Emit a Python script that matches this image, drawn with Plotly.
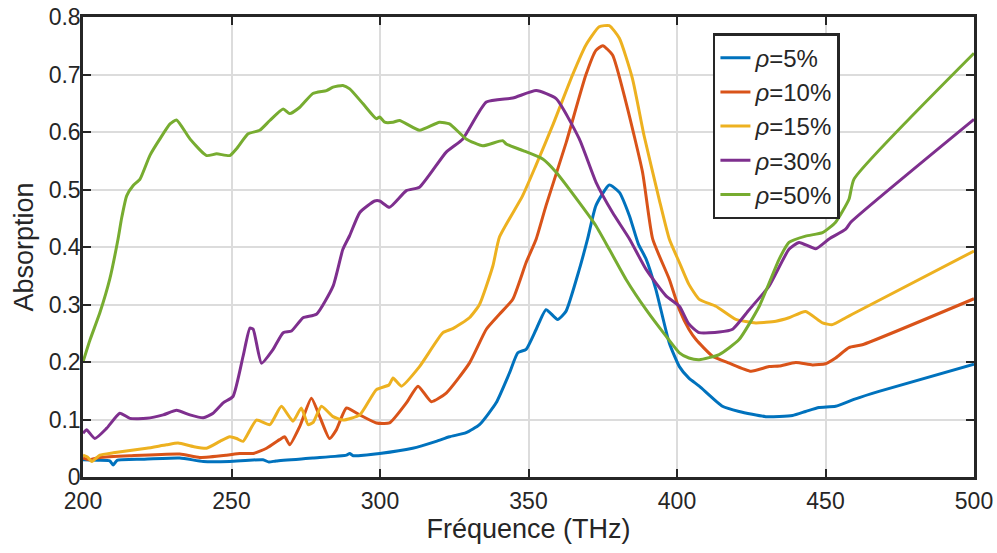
import plotly.graph_objects as go

# ---- data ----
freq_5 = [200, 205, 209, 210.2, 211.5, 220, 232.6, 240.5, 249.4, 260.6, 262.6, 265, 277.4, 288.7, 289.8, 291,
          299.9, 311, 318.9, 323.4, 329, 333.5, 339.1, 343.6, 346.4, 349.2, 352.6, 355.9, 359.8, 362.6, 367.1,
          369.9, 372.7, 377.2, 380.6, 384, 387, 389.6, 392.9, 397.4, 400.8, 404, 407.5, 415.3, 420.9, 429.9,
          438.9, 443.3, 447.8, 453.4, 460.1, 468, 500]
abs_5 = [0.030, 0.029, 0.028, 0.021, 0.029, 0.031, 0.033, 0.027, 0.027, 0.030, 0.026, 0.028, 0.033, 0.038, 0.041, 0.037,
         0.041, 0.050, 0.062, 0.070, 0.077, 0.091, 0.129, 0.181, 0.216, 0.222, 0.257, 0.291, 0.274, 0.288, 0.361,
         0.414, 0.472, 0.508, 0.495, 0.454, 0.405, 0.379, 0.326, 0.233, 0.192, 0.172, 0.158, 0.123, 0.114, 0.105,
         0.107, 0.114, 0.121, 0.123, 0.136, 0.149, 0.196]

freq_10 = [200, 202, 205.7, 215.8, 232.6, 239.3, 248.3, 252.8, 257.3, 261.8, 266.2, 267.9, 269.6, 273, 276.9,
           279.7, 283, 285.3, 288.7, 293.2, 298.8, 303.2, 308.9, 312.8, 317.3, 322.3, 330.1, 335.8, 340.2, 344.7,
           349.2, 352.6, 355.9, 362.7, 369.3, 372.7, 375, 378.3, 382.8, 388.4, 391.8, 397.4, 400.8, 404, 406.4,
           412, 417.6, 424.9, 431, 434.4, 440, 445.6, 450, 453.4, 457.9, 462.4, 500]
abs_10 = [0.033, 0.030, 0.034, 0.037, 0.040, 0.034, 0.038, 0.041, 0.041, 0.050, 0.065, 0.070, 0.056, 0.088, 0.137,
          0.105, 0.067, 0.082, 0.120, 0.108, 0.094, 0.094, 0.129, 0.158, 0.131, 0.146, 0.198, 0.257, 0.283, 0.309,
          0.373, 0.414, 0.472, 0.582, 0.699, 0.742, 0.750, 0.734, 0.652, 0.530, 0.414, 0.344, 0.291, 0.257, 0.239,
          0.210, 0.198, 0.184, 0.192, 0.193, 0.199, 0.195, 0.197, 0.207, 0.225, 0.230, 0.310]

freq_15 = [200, 201.5, 203, 205.7, 210.2, 221.4, 228.1, 232, 237.1, 241.6, 246.1, 249.4, 251.7, 253.9, 258.4,
           262.9, 266.8, 270.7, 273.5, 275.8, 277.5, 280.3, 284.2, 287.5, 293.2, 298.8, 303, 304.4, 307.2, 313.3,
           321.2, 324.5, 330.1, 333.5, 338, 340.2, 348, 352.5, 358.1, 364.8, 369.3, 373.8, 377.2, 380.6, 385,
           388.9, 394, 397.4, 400.8, 404, 407.5, 413.1, 419.8, 426.5, 433.3, 437.7, 443.3, 449, 452.3, 456.8,
           459, 500]
abs_15 = [0.038, 0.035, 0.027, 0.038, 0.042, 0.050, 0.056, 0.059, 0.053, 0.050, 0.062, 0.070, 0.067, 0.062, 0.099,
          0.091, 0.123, 0.097, 0.120, 0.091, 0.095, 0.123, 0.105, 0.099, 0.108, 0.152, 0.160, 0.172, 0.158, 0.192,
          0.251, 0.258, 0.277, 0.300, 0.367, 0.417, 0.489, 0.542, 0.611, 0.699, 0.751, 0.783, 0.785, 0.763, 0.693,
          0.594, 0.483, 0.414, 0.373, 0.335, 0.309, 0.297, 0.274, 0.268, 0.271, 0.277, 0.288, 0.268, 0.265, 0.277,
          0.283, 0.393]

freq_30 = [200, 201.2, 204, 208, 212.4, 215.8, 221.4, 227, 231.5, 236, 240.5, 243.8, 247.2, 250.5, 253.9, 256.2,
           257.3, 260.1, 264, 267.4, 270.2, 274.1, 278.6, 284.2, 287.5, 289.8, 293.2, 298.2, 299.9, 303.2, 308.9,
           313.3, 322.3, 327.9, 335.8, 344.7, 352.6, 359.3, 367.1, 372.7, 378.3, 384, 389.6, 396.3, 400.8, 404,
           407.5, 414.2, 418.7, 424.3, 431, 437.7, 441.1, 446.7, 451.2, 456.8, 458.5, 500]
abs_30 = [0.076, 0.082, 0.067, 0.085, 0.111, 0.102, 0.102, 0.108, 0.116, 0.108, 0.103, 0.111, 0.129, 0.140, 0.210,
          0.259, 0.257, 0.198, 0.222, 0.251, 0.254, 0.277, 0.283, 0.332, 0.396, 0.420, 0.460, 0.480, 0.480, 0.469,
          0.498, 0.504, 0.565, 0.588, 0.652, 0.659, 0.672, 0.658, 0.588, 0.513, 0.460, 0.414, 0.361, 0.315, 0.297,
          0.266, 0.251, 0.252, 0.257, 0.291, 0.332, 0.396, 0.408, 0.397, 0.414, 0.431, 0.443, 0.622]

freq_50 = [200, 202.4, 205.7, 209, 211.8, 213, 214.7, 216.9, 219.2, 222.5, 225.9, 229.3, 231.5, 236, 241.6, 245,
           249.4, 251.7, 255.6, 259.5, 262.9, 267.4, 269.6, 273, 277.4, 282, 284.2, 287.5, 289.8, 294.3, 298.8,
           299.9, 301.6, 304.4, 306.6, 313.3, 320, 323.4, 329, 334.6, 341.3, 342.5, 348, 354.8, 359.3, 367, 372.7,
           377.2, 382.8, 389.6, 396.3, 400.8, 404, 407.5, 414.2, 420.9, 427.7, 434.4, 437.7, 443.3, 449, 453.4,
           457.9, 459.6, 500]
abs_50 = [0.200, 0.239, 0.286, 0.344, 0.414, 0.450, 0.489, 0.507, 0.518, 0.559, 0.588, 0.614, 0.621, 0.588, 0.559,
          0.562, 0.559, 0.571, 0.597, 0.603, 0.620, 0.640, 0.632, 0.643, 0.667, 0.672, 0.678, 0.681, 0.675, 0.649,
          0.623, 0.626, 0.617, 0.617, 0.620, 0.603, 0.617, 0.614, 0.588, 0.576, 0.585, 0.579, 0.568, 0.553, 0.530,
          0.478, 0.437, 0.396, 0.344, 0.291, 0.245, 0.216, 0.207, 0.204, 0.213, 0.239, 0.297, 0.379, 0.408, 0.419,
          0.425, 0.443, 0.483, 0.518, 0.737]

series_names = ["<i>ρ</i>=5%", "<i>ρ</i>=10%", "<i>ρ</i>=15%", "<i>ρ</i>=30%", "<i>ρ</i>=50%"]
series_x = [freq_5, freq_10, freq_15, freq_30, freq_50]
series_y = [abs_5, abs_10, abs_15, abs_30, abs_50]
colors = ["#0072BD", "#D95319", "#EDB120", "#7E2F8E", "#77AC30"]

x_ticks = [200, 250, 300, 350, 400, 450, 500]
y_ticks = [0, 0.1, 0.2, 0.3, 0.4, 0.5, 0.6, 0.7, 0.8]

FONT = "Liberation Sans, Arial, sans-serif"
TXT = "#262626"

fig = go.Figure()
for i, (name, xs, ys, c) in enumerate(zip(series_names, series_x, series_y, colors)):
    fig.add_trace(go.Scatter(
        x=xs, y=ys, name=name, mode="lines",
        line=dict(color=c, width=3, shape="spline", smoothing=0.5),
        legendgroup=f"g{i}",
    ))

axis_common = dict(
    showline=True, linecolor="#262626", linewidth=2.5, mirror="ticks",
    ticks="inside", ticklen=8, tickwidth=2, tickcolor="#262626",
    showgrid=True, gridcolor="#dcdcdc", gridwidth=2,
    zeroline=False, automargin=False, ticklabeloverflow="allow",
    tickfont=dict(family=FONT, size=23, color=TXT),
)

fig.update_xaxes(
    range=[200, 500], tickvals=x_ticks, ticktext=[str(v) for v in x_ticks],
    title=dict(text="Fréquence (THz)", font=dict(family=FONT, size=27, color=TXT), standoff=6),
    ticklabelstandoff=2,
    **axis_common,
)
fig.update_yaxes(
    range=[0, 0.8], tickvals=y_ticks, ticktext=["0" if v == 0 else f"{v:.1f}" for v in y_ticks],
    title=dict(text="Absorption", font=dict(family=FONT, size=27, color=TXT), standoff=8),
    ticklabelstandoff=-5,
    **axis_common,
)

fig.update_layout(
    width=997, height=553,
    margin=dict(l=83, r=23, t=17, b=76),
    paper_bgcolor="white", plot_bgcolor="white",
    font=dict(family=FONT, color=TXT),
    legend=dict(
        x=0.707, y=0.965, xanchor="left", yanchor="top",
        bgcolor="white", bordercolor="#262626", borderwidth=2.5,
        font=dict(family=FONT, size=24, color=TXT),
        itemwidth=30, tracegroupgap=0,
    ),
)

# remove the default page margin so the figure sits at the window's top-left corner
fig.write_html(
    "out.html",
    config={"displayModeBar": False},
    post_script="document.body.style.margin='0';document.body.style.overflow='hidden';",
)
